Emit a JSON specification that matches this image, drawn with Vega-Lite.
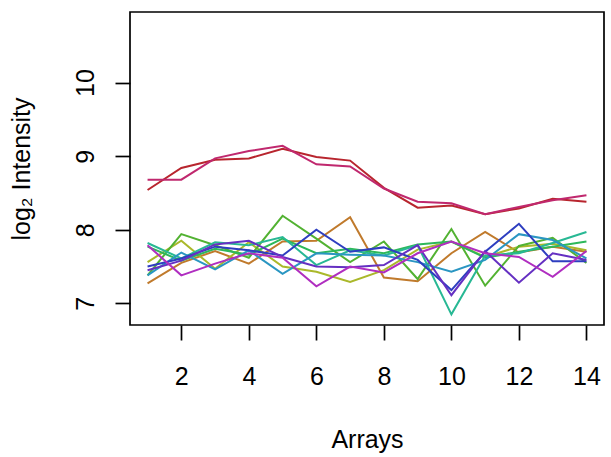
{
  "$schema": "https://vega.github.io/schema/vega-lite/v6.json",
  "width": 474,
  "height": 313,
  "autosize": {"type": "none"},
  "padding": {"left": 130, "top": 12, "right": 7, "bottom": 132},
  "background": "white",
  "config": {
    "view": {"stroke": "black", "strokeWidth": 1.7},
    "axis": {
      "grid": false,
      "domain": false,
      "tickSize": 15,
      "tickWidth": 1.7,
      "tickColor": "black",
      "labelFont": "Liberation Sans",
      "labelFontSize": 25,
      "labelColor": "black",
      "labelFlush": false,
      "labelOverlap": false,
      "titleFont": "Liberation Sans",
      "titleFontSize": 25,
      "titleFontWeight": "normal",
      "titleColor": "black"
    }
  },
  "datasets": {
    "series": [
      {"s": "red", "x": 1, "y": 8.54}, {"s": "red", "x": 2, "y": 8.84}, {"s": "red", "x": 3, "y": 8.95}, {"s": "red", "x": 4, "y": 8.97}, {"s": "red", "x": 5, "y": 9.10}, {"s": "red", "x": 6, "y": 8.99}, {"s": "red", "x": 7, "y": 8.94}, {"s": "red", "x": 8, "y": 8.57}, {"s": "red", "x": 9, "y": 8.30}, {"s": "red", "x": 10, "y": 8.33}, {"s": "red", "x": 11, "y": 8.21}, {"s": "red", "x": 12, "y": 8.29}, {"s": "red", "x": 13, "y": 8.42}, {"s": "red", "x": 14, "y": 8.38},
      {"s": "rose", "x": 1, "y": 8.68}, {"s": "rose", "x": 2, "y": 8.68}, {"s": "rose", "x": 3, "y": 8.97}, {"s": "rose", "x": 4, "y": 9.07}, {"s": "rose", "x": 5, "y": 9.14}, {"s": "rose", "x": 6, "y": 8.89}, {"s": "rose", "x": 7, "y": 8.86}, {"s": "rose", "x": 8, "y": 8.56}, {"s": "rose", "x": 9, "y": 8.38}, {"s": "rose", "x": 10, "y": 8.36}, {"s": "rose", "x": 11, "y": 8.21}, {"s": "rose", "x": 12, "y": 8.31}, {"s": "rose", "x": 13, "y": 8.40}, {"s": "rose", "x": 14, "y": 8.47},
      {"s": "orange", "x": 1, "y": 7.27}, {"s": "orange", "x": 2, "y": 7.55}, {"s": "orange", "x": 3, "y": 7.71}, {"s": "orange", "x": 4, "y": 7.54}, {"s": "orange", "x": 5, "y": 7.84}, {"s": "orange", "x": 6, "y": 7.85}, {"s": "orange", "x": 7, "y": 8.17}, {"s": "orange", "x": 8, "y": 7.35}, {"s": "orange", "x": 9, "y": 7.30}, {"s": "orange", "x": 10, "y": 7.68}, {"s": "orange", "x": 11, "y": 7.97}, {"s": "orange", "x": 12, "y": 7.69}, {"s": "orange", "x": 13, "y": 7.77}, {"s": "orange", "x": 14, "y": 7.70},
      {"s": "olive", "x": 1, "y": 7.56}, {"s": "olive", "x": 2, "y": 7.85}, {"s": "olive", "x": 3, "y": 7.47}, {"s": "olive", "x": 4, "y": 7.83}, {"s": "olive", "x": 5, "y": 7.50}, {"s": "olive", "x": 6, "y": 7.43}, {"s": "olive", "x": 7, "y": 7.29}, {"s": "olive", "x": 8, "y": 7.45}, {"s": "olive", "x": 9, "y": 7.73}, {"s": "olive", "x": 10, "y": 7.84}, {"s": "olive", "x": 11, "y": 7.63}, {"s": "olive", "x": 12, "y": 7.77}, {"s": "olive", "x": 13, "y": 7.81}, {"s": "olive", "x": 14, "y": 7.72},
      {"s": "green", "x": 1, "y": 7.38}, {"s": "green", "x": 2, "y": 7.94}, {"s": "green", "x": 3, "y": 7.79}, {"s": "green", "x": 4, "y": 7.62}, {"s": "green", "x": 5, "y": 8.19}, {"s": "green", "x": 6, "y": 7.88}, {"s": "green", "x": 7, "y": 7.56}, {"s": "green", "x": 8, "y": 7.84}, {"s": "green", "x": 9, "y": 7.33}, {"s": "green", "x": 10, "y": 8.01}, {"s": "green", "x": 11, "y": 7.24}, {"s": "green", "x": 12, "y": 7.78}, {"s": "green", "x": 13, "y": 7.89}, {"s": "green", "x": 14, "y": 7.55},
      {"s": "springgreen", "x": 1, "y": 7.77}, {"s": "springgreen", "x": 2, "y": 7.58}, {"s": "springgreen", "x": 3, "y": 7.74}, {"s": "springgreen", "x": 4, "y": 7.66}, {"s": "springgreen", "x": 5, "y": 7.88}, {"s": "springgreen", "x": 6, "y": 7.68}, {"s": "springgreen", "x": 7, "y": 7.74}, {"s": "springgreen", "x": 8, "y": 7.68}, {"s": "springgreen", "x": 9, "y": 7.80}, {"s": "springgreen", "x": 10, "y": 7.84}, {"s": "springgreen", "x": 11, "y": 7.62}, {"s": "springgreen", "x": 12, "y": 7.70}, {"s": "springgreen", "x": 13, "y": 7.77}, {"s": "springgreen", "x": 14, "y": 7.84},
      {"s": "teal", "x": 1, "y": 7.82}, {"s": "teal", "x": 2, "y": 7.61}, {"s": "teal", "x": 3, "y": 7.83}, {"s": "teal", "x": 4, "y": 7.79}, {"s": "teal", "x": 5, "y": 7.90}, {"s": "teal", "x": 6, "y": 7.52}, {"s": "teal", "x": 7, "y": 7.72}, {"s": "teal", "x": 8, "y": 7.65}, {"s": "teal", "x": 9, "y": 7.79}, {"s": "teal", "x": 10, "y": 6.85}, {"s": "teal", "x": 11, "y": 7.65}, {"s": "teal", "x": 12, "y": 7.68}, {"s": "teal", "x": 13, "y": 7.82}, {"s": "teal", "x": 14, "y": 7.97},
      {"s": "cyan", "x": 1, "y": 7.38}, {"s": "cyan", "x": 2, "y": 7.69}, {"s": "cyan", "x": 3, "y": 7.46}, {"s": "cyan", "x": 4, "y": 7.72}, {"s": "cyan", "x": 5, "y": 7.40}, {"s": "cyan", "x": 6, "y": 7.68}, {"s": "cyan", "x": 7, "y": 7.66}, {"s": "cyan", "x": 8, "y": 7.65}, {"s": "cyan", "x": 9, "y": 7.56}, {"s": "cyan", "x": 10, "y": 7.43}, {"s": "cyan", "x": 11, "y": 7.59}, {"s": "cyan", "x": 12, "y": 7.94}, {"s": "cyan", "x": 13, "y": 7.86}, {"s": "cyan", "x": 14, "y": 7.61},
      {"s": "blue", "x": 1, "y": 7.50}, {"s": "blue", "x": 2, "y": 7.61}, {"s": "blue", "x": 3, "y": 7.77}, {"s": "blue", "x": 4, "y": 7.72}, {"s": "blue", "x": 5, "y": 7.65}, {"s": "blue", "x": 6, "y": 8.00}, {"s": "blue", "x": 7, "y": 7.70}, {"s": "blue", "x": 8, "y": 7.76}, {"s": "blue", "x": 9, "y": 7.59}, {"s": "blue", "x": 10, "y": 7.18}, {"s": "blue", "x": 11, "y": 7.70}, {"s": "blue", "x": 12, "y": 8.08}, {"s": "blue", "x": 13, "y": 7.57}, {"s": "blue", "x": 14, "y": 7.57},
      {"s": "violet", "x": 1, "y": 7.45}, {"s": "violet", "x": 2, "y": 7.58}, {"s": "violet", "x": 3, "y": 7.80}, {"s": "violet", "x": 4, "y": 7.85}, {"s": "violet", "x": 5, "y": 7.63}, {"s": "violet", "x": 6, "y": 7.50}, {"s": "violet", "x": 7, "y": 7.49}, {"s": "violet", "x": 8, "y": 7.52}, {"s": "violet", "x": 9, "y": 7.79}, {"s": "violet", "x": 10, "y": 7.11}, {"s": "violet", "x": 11, "y": 7.71}, {"s": "violet", "x": 12, "y": 7.28}, {"s": "violet", "x": 13, "y": 7.68}, {"s": "violet", "x": 14, "y": 7.59},
      {"s": "magenta", "x": 1, "y": 7.79}, {"s": "magenta", "x": 2, "y": 7.38}, {"s": "magenta", "x": 3, "y": 7.54}, {"s": "magenta", "x": 4, "y": 7.68}, {"s": "magenta", "x": 5, "y": 7.62}, {"s": "magenta", "x": 6, "y": 7.23}, {"s": "magenta", "x": 7, "y": 7.50}, {"s": "magenta", "x": 8, "y": 7.42}, {"s": "magenta", "x": 9, "y": 7.68}, {"s": "magenta", "x": 10, "y": 7.84}, {"s": "magenta", "x": 11, "y": 7.68}, {"s": "magenta", "x": 12, "y": 7.63}, {"s": "magenta", "x": 13, "y": 7.36}, {"s": "magenta", "x": 14, "y": 7.71}
    ]
  },
  "data": {"name": "series"},
  "mark": {"type": "line", "strokeWidth": 2, "clip": true},
  "encoding": {
    "x": {
      "field": "x",
      "type": "quantitative",
      "scale": {"domain": [0.48, 14.52], "nice": false, "zero": false},
      "axis": {
        "values": [2, 4, 6, 8, 10, 12, 14],
        "title": "Arrays",
        "labelBaseline": "alphabetic",
        "labelPadding": 44,
        "titleX": 237,
        "titleY": 122.7,
        "titleAlign": "center",
        "titleBaseline": "alphabetic"
      }
    },
    "y": {
      "field": "y",
      "type": "quantitative",
      "scale": {"domain": [6.705, 10.96], "nice": false, "zero": false},
      "axis": {
        "values": [7, 8, 9, 10],
        "title": "log₂ Intensity",
        "labelAngle": -90,
        "labelAlign": "center",
        "labelBaseline": "alphabetic",
        "labelPadding": 21.7,
        "titleAngle": -90,
        "titleX": -100.7,
        "titleY": 156.5,
        "titleAlign": "center",
        "titleBaseline": "alphabetic"
      }
    },
    "color": {
      "field": "s",
      "type": "nominal",
      "scale": {
        "domain": ["red", "orange", "olive", "green", "springgreen", "teal", "cyan", "blue", "violet", "magenta", "rose"],
        "range": ["#B8252E", "#C07A2C", "#AAB82A", "#52B232", "#2EB85A", "#28B894", "#2A96C2", "#2E3EC0", "#6530C2", "#B02EC0", "#C0286E"]
      },
      "legend": null
    }
  }
}
